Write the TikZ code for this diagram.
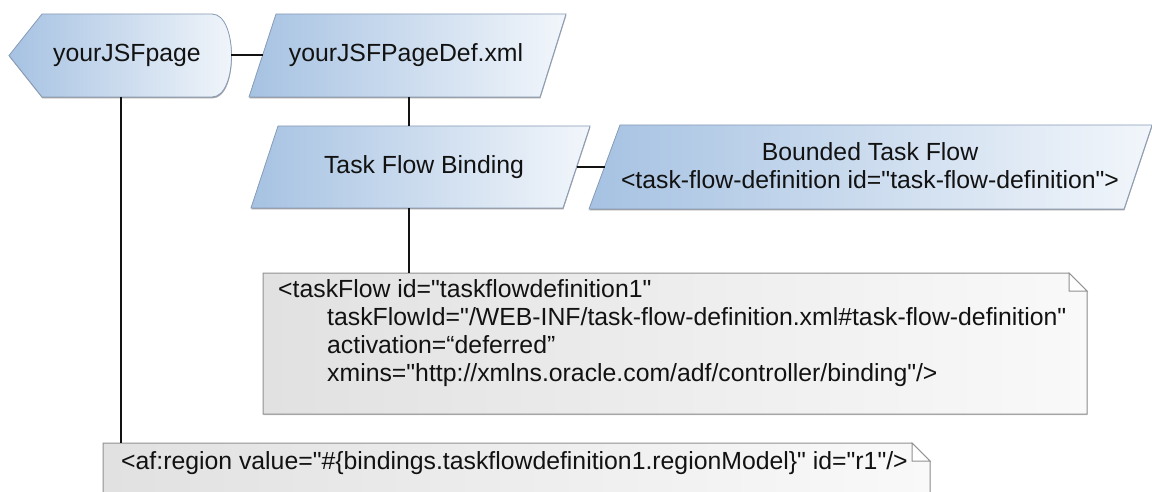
\documentclass[tikz,border=0pt]{standalone}
\usepackage{fontspec}
\setmainfont{Liberation Sans}[Ligatures=TeXOff]
\usetikzlibrary{shadows}
\definecolor{blueL}{RGB}{166,194,226}
\definecolor{blueR}{RGB}{242,246,251}
\definecolor{blueB}{RGB}{135,155,182}
\definecolor{noteL}{RGB}{225,225,225}
\definecolor{noteR}{RGB}{249,249,249}
\definecolor{noteB}{RGB}{145,145,145}
\definecolor{ink}{RGB}{18,18,18}
\begin{document}
\begin{tikzpicture}[x=1pt,y=-1pt,
  blueshape/.style={left color=blueL,right color=blueR,draw=blueB,line width=0.8pt,
    drop shadow={shadow xshift=0.4pt,shadow yshift=-1.4pt,opacity=0.55,fill=black!65}},
  noteshape/.style={left color=noteL,right color=noteR,draw=noteB,line width=1pt,
    drop shadow={shadow xshift=0.4pt,shadow yshift=-1.2pt,opacity=0.35,fill=black!60}},
  foldshape/.style={fill=white,draw=noteB,line width=1pt},
  lbl/.style={font=\fontsize{24.8}{28}\selectfont,text=ink,inner sep=0pt},
  conn/.style={draw=ink,line width=1.7pt},
  thinconn/.style={draw=ink,line width=1.1pt}]
\useasboundingbox (0,0) rectangle (1152,492);
\clip (0,0) rectangle (1152,492);

% shapes
\path[blueshape] (9,55.5) -- (42,14) -- (212,14) .. controls (238,14) and (238,97) .. (212,97) -- (42,97) -- cycle;
\path[blueshape] (276,14) -- (566,14) -- (540,97) -- (249,97) -- cycle;
\path[blueshape] (278,126) -- (590,126) -- (563,208) -- (251,208) -- cycle;
\path[blueshape] (620,125) -- (1152,125) -- (1124,209) -- (589,209) -- cycle;

\path[noteshape] (263,273) -- (1069,273) -- (1087,291) -- (1087,414) -- (263,414) -- cycle;
\path[foldshape] (1069,273) -- (1069,291) -- (1087,291) -- cycle;
\path[noteshape] (103,443) -- (912,443) -- (930,461) -- (930,505) -- (103,505) -- cycle;
\path[foldshape] (912,443) -- (912,461) -- (930,461) -- cycle;

% labels
\node[lbl] (page) at (127,55) {yourJSFpage};
\node[lbl] (pagedef) at (406,55) {yourJSFPageDef.xml};
\node[lbl] (tfb) at (424,167) {Task Flow Binding};
\node[lbl,align=center] (btf) at (870,166) {Bounded Task Flow\\<task-flow-definition id="task-flow-definition">};
\node[lbl,align=left,anchor=west] (note1) at (278,333) {<taskFlow id="taskflowdefinition1"\\
\hspace*{49pt}taskFlowId="/WEB-INF/task-flow-definition.xml\#task-flow-definition"\\
\hspace*{49pt}activation=“deferred”\\
\hspace*{49pt}xmins="http://xmlns.oracle.com/adf/controller/binding"/>};
\node[lbl,anchor=west] (note2) at (121,463) {<af:region value="\#\{bindings.taskflowdefinition1.regionModel\}" id="r1"/>};

% connector end points
\coordinate (page-e) at (231,55);
\coordinate (pagedef-w) at (262.5,55);
\coordinate (pagedef-s) at (409,97);
\coordinate (tfb-n) at (409,126);
\coordinate (tfb-e) at (576.5,167);
\coordinate (btf-w) at (604.5,167);
\coordinate (tfb-s) at (409,208);
\coordinate (note1-n) at (409,273);
\coordinate (page-s) at (121,97);
\coordinate (note2-n) at (121,443);

\draw[conn] (page-e) -- (pagedef-w);
\draw[conn] (pagedef-s) -- (tfb-n);
\draw[conn] (tfb-e) -- (btf-w);
\draw[thinconn] (tfb-s) -- (note1-n);
\draw[thinconn] (page-s) -- (note2-n);
\end{tikzpicture}
\end{document}
